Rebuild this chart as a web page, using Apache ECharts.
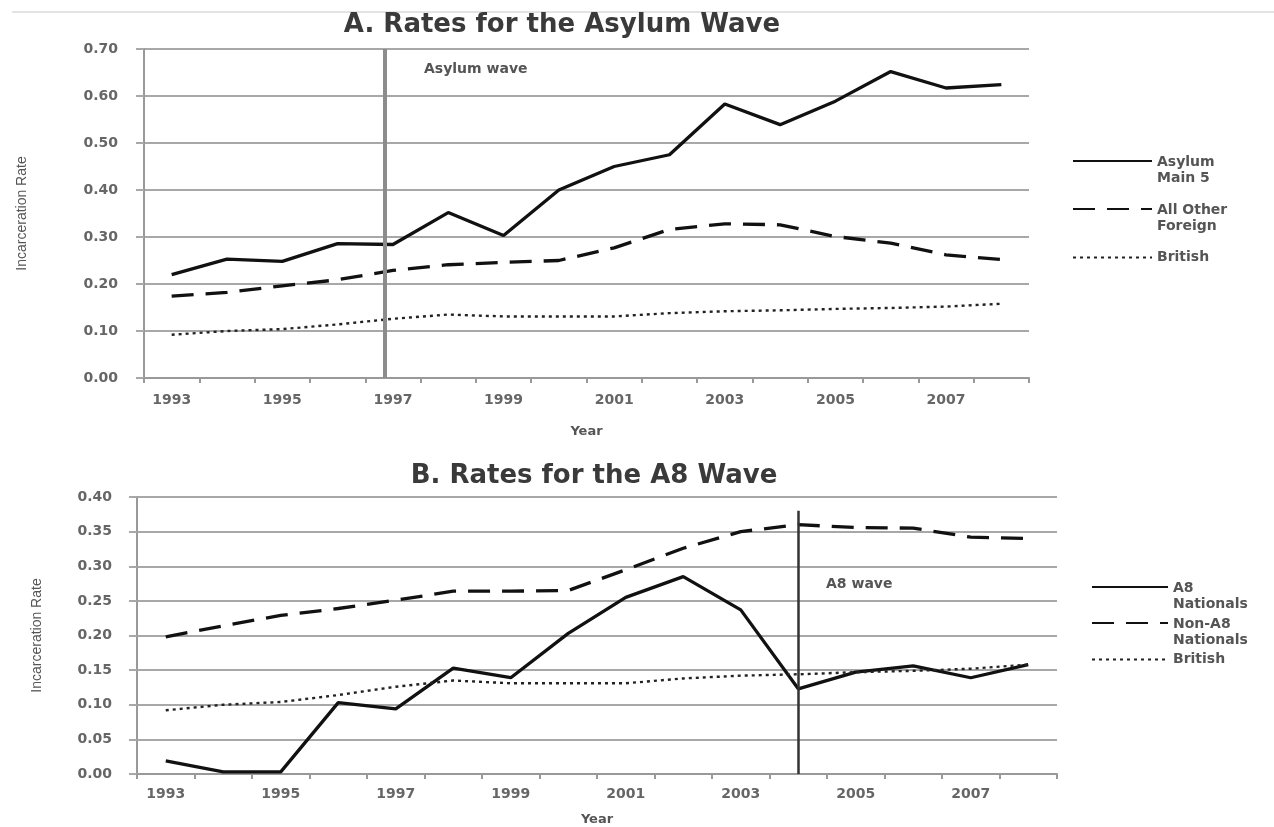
<!DOCTYPE html>
<html>
<head>
<meta charset="utf-8">
<script src="https://cdn.jsdelivr.net/npm/echarts@6/dist/echarts.min.js"></script>
<style>
  html, body { margin: 0; padding: 0; background: #fff; }
  #chart { width: 1274px; height: 827px; }
</style>
</head>
<body>
<div id="chart"></div>
<script>
// ---- data ----
const years = ['1993','1994','1995','1996','1997','1998','1999','2000','2001','2002','2003','2004','2005','2006','2007','2008'];
const asylumMain5     = [0.220,0.253,0.248,0.286,0.284,0.352,0.303,0.400,0.450,0.475,0.583,0.539,0.589,0.652,0.617,0.624];
const allOtherForeign = [0.174,0.182,0.196,0.209,0.229,0.241,0.246,0.250,0.277,0.316,0.328,0.326,0.301,0.287,0.262,0.252];
const british         = [0.092,0.100,0.104,0.114,0.126,0.135,0.131,0.131,0.131,0.138,0.142,0.144,0.147,0.149,0.152,0.158];
const a8Nationals     = [0.019,0.003,0.003,0.103,0.094,0.153,0.139,0.203,0.255,0.285,0.237,0.123,0.147,0.156,0.139,0.158];
const nonA8Nationals  = [0.198,0.214,0.229,0.239,0.251,0.264,0.264,0.265,0.295,0.326,0.350,0.360,0.356,0.355,0.342,0.340];
const asylumYTicks = { min: 0, max: 0.70, interval: 0.10 };
const a8YTicks     = { min: 0, max: 0.40, interval: 0.05 };
const asylumWaveYear = 1996.85;   // position of the "Asylum wave" marker line
const a8WaveYear = '2004';        // position of the "A8 wave" marker line
const a8WaveTop = 0.38;
const titles = ['A. Rates for the Asylum Wave', 'B. Rates for the A8 Wave'];
const legendLines = {
  'Asylum Main 5': ['Asylum', 'Main 5'],
  'All Other Foreign': ['All Other', 'Foreign'],
  'British': ['British'],
  'A8 Nationals': ['A8', 'Nationals'],
  'Non-A8 Nationals': ['Non-A8', 'Nationals']
};

// ---- styles ----
const FONT = 'DejaVu Sans';
const gridColor = '#a8a8a8';
const lblStyle = { color: '#666', fontFamily: FONT, fontWeight: 'bold', fontSize: 14 };
const solid  = { color: '#111', width: 3.3, type: 'solid' };
const dashed = { color: '#111', width: 3.3, type: [22, 12] };
const dotted = { color: '#222', width: 2.4, type: [3, 4] };

function xAxisCfg(grid, gap) {
  return {
    type: 'category', gridIndex: grid, data: years, boundaryGap: true,
    axisLine: { show: true, lineStyle: { color: '#999', width: 2 } },
    axisTick: { show: true, interval: 0, length: 5, lineStyle: { color: '#999', width: 2 } },
    axisLabel: Object.assign({ interval: 1, margin: grid === 0 ? 15 : 13 }, lblStyle),
    name: 'Year', nameLocation: 'middle', nameGap: gap,
    nameTextStyle: { color: '#555', fontFamily: FONT, fontWeight: 'bold', fontSize: 13 },
    splitLine: { show: false }
  };
}
function yAxisCfg(grid, t, gap, margin) {
  return {
    type: 'value', gridIndex: grid, min: t.min, max: t.max, interval: t.interval,
    axisLine: { show: true, lineStyle: { color: '#999', width: 2 } },
    axisTick: { show: true, length: 8, lineStyle: { color: gridColor, width: 2 } },
    axisLabel: Object.assign({ margin: margin, formatter: v => v.toFixed(2) }, lblStyle),
    splitLine: { show: true, lineStyle: { color: gridColor, width: 2 } },
    name: 'Incarceration Rate', nameLocation: 'middle', nameRotate: 90, nameGap: gap,
    nameTextStyle: { color: '#555', fontFamily: "'Liberation Sans Narrow', 'Liberation Sans'", fontSize: 14 }
  };
}
function lineSeries(name, data, style, xi, yi, z) {
  return {
    name: name, type: 'line', data: data, xAxisIndex: xi, yAxisIndex: yi,
    symbol: 'none', smooth: false, lineStyle: style, itemStyle: { color: style.color },
    z: z || 3, animation: false
  };
}
const legendFont = { color: '#555', fontFamily: FONT, fontWeight: 'bold', fontSize: 14 };
function legendItem(name, left, top, itemWidth) {
  return {
    left: left, top: top, orient: 'vertical', padding: 0, itemWidth: itemWidth, itemHeight: 14,
    selectedMode: false,
    itemStyle: { color: 'transparent', borderColor: 'transparent', borderWidth: 0, opacity: 0 },
    data: [name],
    // first line sits level with the line sample, second line below it
    formatter: n => {
      const l = legendLines[n];
      return l.length > 1 ? '{a|' + l[0] + '}\n{b|' + l[1] + '}' : '{b|' + l[0] + '}';
    },
    textStyle: Object.assign({
      rich: {
        a: Object.assign({ lineHeight: 34, verticalAlign: 'bottom' }, legendFont),
        b: Object.assign({ lineHeight: 17 }, legendFont)
      }
    }, legendFont)
  };
}

const chart = echarts.init(document.getElementById('chart'), null, { renderer: 'canvas' });
chart.setOption({
  backgroundColor: '#fff',
  animation: false,
  title: [
    { text: titles[0], left: 557, top: 7, textAlign: 'center',
      textStyle: { color: '#3a3a3a', fontFamily: FONT, fontWeight: 'bold', fontSize: 26 } },
    { text: titles[1], left: 589, top: 458, textAlign: 'center',
      textStyle: { color: '#3a3a3a', fontFamily: FONT, fontWeight: 'bold', fontSize: 26 } }
  ],
  grid: [
    { left: 144, top: 49, width: 885, height: 329 },
    { left: 137, top: 497, width: 920, height: 285 }
  ],
  xAxis: [
    xAxisCfg(0, 47),
    xAxisCfg(1, 39),
    { type: 'value', gridIndex: 0, min: 1992.5, max: 2008.5, show: false }
  ],
  yAxis: [
    yAxisCfg(0, asylumYTicks, 115, 26),
    yAxisCfg(1, a8YTicks, 93, 25)
  ],
  legend: [
    legendItem('Asylum Main 5', 1072, 155.5, 79),
    legendItem('All Other Foreign', 1072, 203.5, 79),
    legendItem('British', 1072, 250.5, 79),
    legendItem('A8 Nationals', 1091, 581.5, 76),
    legendItem('Non-A8 Nationals', 1091, 617.5, 76),
    legendItem('British', 1091, 652.5, 76)
  ],
  graphic: [
    { type: 'line', shape: { x1: 12, y1: 12, x2: 1274, y2: 12 }, style: { stroke: '#c8c8c8', lineWidth: 1 } },
    { type: 'text', left: 424, top: 62, style: { text: 'Asylum wave', fill: '#555', font: 'bold 14px "DejaVu Sans"' } },
    { type: 'text', left: 826, top: 577, style: { text: 'A8 wave', fill: '#555', font: 'bold 14px "DejaVu Sans"' } }
  ],
  series: [
    {
      name: 'asylum-wave-marker', type: 'line', xAxisIndex: 2, yAxisIndex: 0, data: [], z: 1,
      symbol: 'none', silent: true,
      markLine: { symbol: 'none', silent: true, label: { show: false },
                  lineStyle: { color: '#8c8c8c', width: 4, type: 'solid' },
                  data: [{ xAxis: asylumWaveYear }] }
    },
    lineSeries('Asylum Main 5', asylumMain5, solid, 0, 0),
    lineSeries('All Other Foreign', allOtherForeign, dashed, 0, 0),
    lineSeries('British', british, dotted, 0, 0),
    Object.assign(lineSeries('A8 Nationals', a8Nationals, solid, 1, 1), {
      markLine: { symbol: 'none', silent: true, label: { show: false },
                  lineStyle: { color: '#333', width: 2.5, type: 'solid' },
                  data: [[{ coord: [a8WaveYear, 0] }, { coord: [a8WaveYear, a8WaveTop] }]] }
    }),
    lineSeries('Non-A8 Nationals', nonA8Nationals, dashed, 1, 1),
    lineSeries('British', british, dotted, 1, 1)
  ]
});
</script>
</body>
</html>
